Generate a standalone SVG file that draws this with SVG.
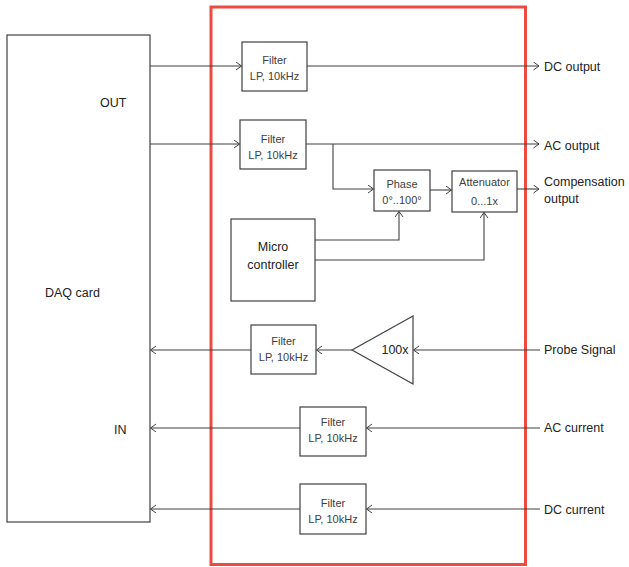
<svg xmlns="http://www.w3.org/2000/svg" width="629" height="567" viewBox="0 0 629 567">
<defs>
<marker id="arr" markerWidth="8" markerHeight="10" refX="6" refY="4" orient="auto" markerUnits="userSpaceOnUse">
<path d="M0.5,0 L6,4 L0.5,8" fill="none" stroke="#404040" stroke-width="1"/>
</marker>
<style>
.box{fill:#fff;stroke:#404040;stroke-width:1.2}
.ln{fill:none;stroke:#404040;stroke-width:1.1}
.t{font-family:"Liberation Sans",Arial,sans-serif;font-size:11px;fill:#404040;text-anchor:middle;dominant-baseline:central}
.l{font-family:"Liberation Sans",Arial,sans-serif;font-size:12.5px;fill:#222;dominant-baseline:central}
</style>
</defs>
<rect width="629" height="567" fill="#fff"/>
<rect x="211" y="7" width="314.5" height="557.5" fill="none" stroke="#ee4a42" stroke-width="3"/>
<g id="daq">
<rect class="box" x="7" y="35" width="143" height="487"/>
<text class="l" x="100" y="103">OUT</text>
<text class="l" x="45" y="293">DAQ card</text>
<text class="l" x="114" y="430">IN</text>
</g>
<g id="filter1"><rect class="box" x="242" y="42" width="65" height="49"/><text class="t" x="274.5" y="60">Filter</text><text class="t" x="274.5" y="76">LP, 10kHz</text></g>
<g id="filter2"><rect class="box" x="240" y="120" width="66" height="49"/><text class="t" x="273" y="139">Filter</text><text class="t" x="273" y="155">LP, 10kHz</text></g>
<g id="phase"><rect class="box" x="374" y="170" width="56" height="41"/><text class="t" x="402" y="184">Phase</text><text class="t" x="402" y="200">0°..100°</text></g>
<g id="attenuator"><rect class="box" x="452" y="171" width="65" height="41"/><text class="t" x="484.5" y="182">Attenuator</text><text class="t" x="484.5" y="201">0...1x</text></g>
<g id="micro"><rect class="box" x="231" y="219" width="84" height="82"/><text class="l" x="273" y="247" text-anchor="middle">Micro</text><text class="l" x="273" y="265" text-anchor="middle">controller</text></g>
<g id="filter3"><rect class="box" x="251" y="325" width="65" height="49"/><text class="t" x="283.5" y="341">Filter</text><text class="t" x="283.5" y="357">LP, 10kHz</text></g>
<g id="amp"><polygon class="box" points="352,350 413,316 413,384"/><text class="l" x="395" y="350" text-anchor="middle">100x</text></g>
<g id="filter4"><rect class="box" x="300" y="407" width="66" height="49"/><text class="t" x="333" y="422">Filter</text><text class="t" x="333" y="438">LP, 10kHz</text></g>
<g id="filter5"><rect class="box" x="300" y="484" width="66" height="50"/><text class="t" x="333" y="503">Filter</text><text class="t" x="333" y="519">LP, 10kHz</text></g>
<g id="labels">
<text class="l" x="544" y="67">DC output</text>
<text class="l" x="544" y="146">AC output</text>
<text class="l" x="544" y="182">Compensation</text>
<text class="l" x="544" y="199">output</text>
<text class="l" x="544" y="350">Probe Signal</text>
<text class="l" x="544" y="428">AC current</text>
<text class="l" x="544" y="510">DC current</text>
</g>
<g id="connectors">
<path class="ln" d="M150,66 H241.5" stroke="#111" marker-end="url(#arr)"/>
<path class="ln" d="M307,66 H539" stroke="#111" marker-end="url(#arr)"/>
<path class="ln" d="M150,144 H239.5" marker-end="url(#arr)"/>
<path class="ln" d="M306,144 H539" marker-end="url(#arr)"/>
<path class="ln" d="M333,144 V189 H373.5" marker-end="url(#arr)"/>
<path class="ln" d="M430,190 H451.5" marker-end="url(#arr)"/>
<path class="ln" d="M517,189 H539" marker-end="url(#arr)"/>
<path class="ln" d="M315,240 H399 V211.5" marker-end="url(#arr)"/>
<path class="ln" d="M315,260 H484 V212.5" stroke="#111" marker-end="url(#arr)"/>
<path class="ln" d="M540,350 H413.5" marker-end="url(#arr)"/>
<path class="ln" d="M352,350 H316.5" marker-end="url(#arr)"/>
<path class="ln" d="M251,350 H150.5" marker-end="url(#arr)"/>
<path class="ln" d="M540,428 H366.5" stroke="#111" marker-end="url(#arr)"/>
<path class="ln" d="M300,428 H150.5" marker-end="url(#arr)"/>
<path class="ln" d="M540,509 H366.5" stroke="#111" marker-end="url(#arr)"/>
<path class="ln" d="M300,509 H150.5" marker-end="url(#arr)"/>
</g>
</svg>
